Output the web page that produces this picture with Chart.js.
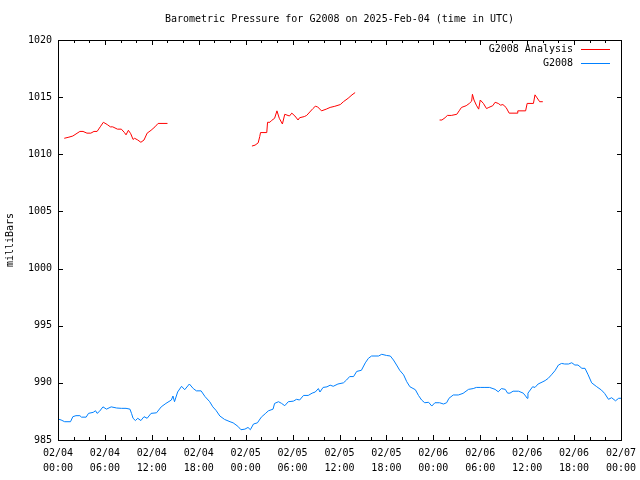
<!DOCTYPE html>
<html>
<head>
<meta charset="utf-8">
<title>Barometric Pressure for G2008</title>
<script src="https://cdn.jsdelivr.net/npm/chart.js"></script>
<style>
  body { margin: 0; background: #fff; }
  #chart { display: block; }
</style>
</head>
<body>
<canvas id="chart" width="640" height="480"></canvas>
<script>
// hours since 02/04 00:00 UTC
const xTickHours = [0, 6, 12, 18, 24, 30, 36, 42, 48, 54, 60, 66, 72];
const yTicks = [985, 990, 995, 1000, 1005, 1010, 1015, 1020];
const seriesNames = ['G2008 Analysis', 'G2008'];
const seriesColors = ['#ff0000', '#0080ff'];

// G2008 Analysis (null = gap between analysis runs)
const redHours = [0.8, 1.4, 1.9, 2.8, 3.2, 3.7, 4.2, 4.6, 5.0, 5.4, 5.8, 6.3, 6.7, 7.0, 7.6, 8.1, 8.5, 8.7, 9.0, 9.3, 9.6, 9.8, 10.2, 10.6, 11.0, 11.4, 11.9, 12.4, 12.8, 14.0,
  19,
  24.8, 25.2, 25.6, 25.8, 25.9, 26.7, 26.8, 27.1, 27.3, 27.7, 28.0, 28.3, 28.7, 29.0, 29.6, 29.9, 30.3, 30.7, 30.9, 31.5, 31.8, 32.2, 32.6, 32.9, 33.2, 33.7, 34.3, 34.8, 35.4, 36.1, 36.5, 37.1, 37.6, 38.0,
  43,
  48.8, 49.1, 49.5, 49.8, 50.3, 51.0, 51.3, 51.6, 52.2, 52.6, 52.9, 53.0, 53.2, 53.5, 53.8, 54.0, 54.4, 54.8, 55.1, 55.6, 55.9, 56.3, 56.6, 56.9, 57.3, 57.7, 58.7, 58.8, 59.8, 60.0, 60.8, 61.0, 61.2, 61.6, 62.0];
const redValues = [1011.4, 1011.5, 1011.6, 1012.0, 1012.0, 1011.85, 1011.85, 1012.0, 1012.0, 1012.4, 1012.8, 1012.6, 1012.4, 1012.4, 1012.2, 1012.2, 1011.9, 1011.7, 1012.1, 1011.8, 1011.3, 1011.4, 1011.25, 1011.05, 1011.25, 1011.85, 1012.1, 1012.4, 1012.7, 1012.7,
  null,
  1010.72, 1010.8, 1011.0, 1011.55, 1011.9, 1011.9, 1012.8, 1012.8, 1012.95, 1013.15, 1013.8, 1013.15, 1012.65, 1013.5, 1013.35, 1013.6, 1013.35, 1013.0, 1013.2, 1013.3, 1013.4, 1013.7, 1014.0, 1014.2, 1014.15, 1013.8, 1013.95, 1014.1, 1014.2, 1014.35, 1014.6, 1014.9, 1015.2, 1015.4,
  null,
  1013.0, 1013.0, 1013.2, 1013.4, 1013.4, 1013.5, 1013.8, 1014.1, 1014.25, 1014.45, 1014.65, 1015.25, 1014.75, 1014.3, 1013.95, 1014.75, 1014.45, 1014.0, 1014.1, 1014.25, 1014.55, 1014.45, 1014.3, 1014.35, 1014.1, 1013.6, 1013.6, 1013.8, 1013.8, 1014.45, 1014.45, 1015.2, 1015.0, 1014.6, 1014.6];

// G2008 station
const blueHours = [0, 0.4, 0.85, 1.6, 1.9, 2.3, 2.8, 3.0, 3.6, 3.9, 4.5, 4.8, 5.0, 5.3, 5.75, 6.2, 6.8, 7.5, 8.1, 8.7, 9.2, 9.4, 9.6, 9.9, 10.2, 10.6, 11.0, 11.4, 11.9, 12.6, 13.2, 13.8, 14.5, 14.7, 14.9, 15.3, 15.8, 16.2, 16.8, 17.3, 17.7, 18.3, 18.8, 19.4, 19.8, 20.2, 20.7, 21.3, 22.0, 22.4, 23.0, 23.4, 23.9, 24.3, 24.6,
  25.0, 25.5, 26.0, 26.5, 26.9, 27.5, 27.7, 28.2, 28.6, 29.0, 29.45, 30.1, 30.5, 30.9, 31.4, 32.0, 32.5, 32.9, 33.3, 33.5, 33.9, 34.4, 34.8, 35.2, 35.8, 36.5, 36.9, 37.3, 37.8, 38.2, 38.8, 39.3, 39.7, 40.1, 41.0, 41.4, 42.0, 42.5, 42.9, 43.3, 43.7, 44.2, 44.6, 45.0, 45.7, 46.1, 46.5, 46.9, 47.4, 47.8,
  48.2, 48.8, 49.3, 49.7, 50.0, 50.55, 51.2, 51.8, 52.5, 53.1, 53.5, 54.0, 54.6, 55.2, 55.9, 56.3, 56.7, 57.2, 57.5, 57.8, 58.2, 58.9, 59.5, 59.8, 60.0, 60.1, 60.7, 61.0, 61.4, 61.9, 62.3, 62.7, 63.1, 63.55, 64.0, 64.4, 64.8, 65.3, 65.7, 66.1, 66.5, 67.0, 67.4, 67.8, 68.25, 68.9, 69.5, 69.9, 70.4, 70.8, 71.3, 71.7, 72.0];
const blueValues = [986.84, 986.75, 986.6, 986.6, 987.04, 987.13, 987.13, 987.0, 987.0, 987.33, 987.42, 987.56, 987.33, 987.5, 987.9, 987.7, 987.9, 987.8, 987.77, 987.77, 987.7, 987.33, 986.9, 986.7, 986.9, 986.7, 987.04, 986.9, 987.33, 987.38, 987.9, 988.2, 988.5, 988.85, 988.35, 989.2, 989.7, 989.4, 989.9, 989.5, 989.3, 989.3, 988.8, 988.35, 987.9, 987.6, 987.1, 986.8, 986.6, 986.5, 986.2, 985.9, 985.95, 986.1, 985.9,
  986.4, 986.5, 987.0, 987.3, 987.55, 987.7, 988.2, 988.35, 988.2, 988.0, 988.35, 988.4, 988.56, 988.5, 988.9, 988.9, 989.1, 989.2, 989.5, 989.2, 989.6, 989.65, 989.8, 989.7, 989.9, 990.0, 990.25, 990.55, 990.55, 991.0, 991.1, 991.75, 992.15, 992.35, 992.35, 992.5, 992.4, 992.35, 992.0, 991.56, 991.1, 990.7, 990.1, 989.66, 989.4, 988.9, 988.5, 988.26, 988.3, 987.97,
  988.26, 988.26, 988.15, 988.26, 988.65, 988.94, 988.94, 989.08, 989.43, 989.5, 989.6, 989.6, 989.6, 989.6, 989.43, 989.22, 989.5, 989.43, 989.1, 989.1, 989.27, 989.27, 989.1, 988.85, 988.65, 989.1, 989.66, 989.6, 989.9, 990.06, 990.2, 990.4, 990.7, 991.06, 991.56, 991.7, 991.65, 991.65, 991.76, 991.56, 991.56, 991.27, 991.27, 990.7, 990.0, 989.66, 989.37, 989.08, 988.56, 988.7, 988.43, 988.65, 988.65];

const FONT = '"DejaVu Sans Mono", "Liberation Mono", monospace';

function pairs(xs, ys) {
  return xs.map((x, i) => ({ x: x, y: ys[i] }));
}

function hourLabel(h) {
  const day = 4 + Math.floor(h / 24);
  const hh = h % 24;
  return ['02/0' + day, String(hh).padStart(2, '0') + ':00'];
}

// gnuplot style frame: box, inward ticks on all sides, title, ylabel, key
const frame = {
  id: 'frame',
  afterDraw(chart) {
    const ctx = chart.ctx;
    const a = chart.chartArea;
    const xs = chart.scales.x;
    const ys = chart.scales.y;
    ctx.save();
    ctx.strokeStyle = '#000';
    ctx.lineWidth = 1;
    ctx.strokeRect(a.left + 0.5, a.top + 0.5, a.right - a.left, a.bottom - a.top);

    ctx.beginPath();
    for (let h = 0; h <= 72; h += 2) {
      const px = Math.round(xs.getPixelForValue(h)) + 0.5;
      const len = h % 6 === 0 ? 5 : 3;
      ctx.moveTo(px, a.bottom);
      ctx.lineTo(px, a.bottom - len);
      ctx.moveTo(px, a.top);
      ctx.lineTo(px, a.top + len);
    }
    yTicks.forEach(v => {
      const py = Math.round(ys.getPixelForValue(v)) + 0.5;
      ctx.moveTo(a.left, py);
      ctx.lineTo(a.left + 5, py);
      ctx.moveTo(a.right + 1, py);
      ctx.lineTo(a.right - 4, py);
    });
    ctx.stroke();

    ctx.fillStyle = '#000';
    ctx.font = '10px ' + FONT;
    ctx.textAlign = 'center';
    ctx.textBaseline = 'middle';
    ctx.fillText('Barometric Pressure for G2008 on 2025-Feb-04 (time in UTC)', (a.left + a.right) / 2, 19);

    ctx.save();
    ctx.translate(10, 240);
    ctx.rotate(-Math.PI / 2);
    ctx.fillText('milliBars', 0, 0);
    ctx.restore();

    ctx.textAlign = 'right';
    seriesNames.forEach((name, i) => {
      const y = 49 + i * 14;
      ctx.fillStyle = '#000';
      ctx.fillText(name, 573, y);
      ctx.fillStyle = seriesColors[i];
      ctx.fillRect(581, y, 29, 1);
    });
    ctx.restore();
  }
};

new Chart(document.getElementById('chart'), {
  type: 'line',
  data: {
    datasets: [
      {
        label: seriesNames[0],
        data: pairs(redHours, redValues),
        borderColor: seriesColors[0],
        borderWidth: 1,
        pointRadius: 0,
        tension: 0,
        spanGaps: false
      },
      {
        label: seriesNames[1],
        data: pairs(blueHours, blueValues),
        borderColor: seriesColors[1],
        borderWidth: 1,
        pointRadius: 0,
        tension: 0
      }
    ]
  },
  options: {
    responsive: false,
    devicePixelRatio: 1,
    animation: false,
    layout: { padding: { left: 0, right: 19, top: 40, bottom: 0 } },
    plugins: {
      legend: { display: false },
      title: { display: false },
      tooltip: { enabled: false }
    },
    scales: {
      x: {
        type: 'linear',
        min: 0,
        max: 72,
        afterFit: s => { s.height = 40; s.paddingLeft = 0; s.paddingRight = 0; },
        afterBuildTicks: s => { s.ticks = xTickHours.map(v => ({ value: v })); },
        grid: { display: false, drawTicks: false },
        border: { display: false },
        ticks: {
          color: '#000',
          padding: 6,
          maxRotation: 0,
          autoSkip: false,
          font: { family: FONT, size: 10, lineHeight: 1.5 },
          callback: v => hourLabel(v)
        }
      },
      y: {
        min: 985,
        max: 1020,
        afterFit: s => { s.width = 58; s.paddingTop = 0; s.paddingBottom = 0; },
        afterBuildTicks: s => { s.ticks = yTicks.map(v => ({ value: v })); },
        grid: { display: false, drawTicks: false },
        border: { display: false },
        ticks: {
          color: '#000',
          padding: 6,
          font: { family: FONT, size: 10 },
          callback: v => String(v)
        }
      }
    }
  },
  plugins: [frame]
});
</script>
</body>
</html>
